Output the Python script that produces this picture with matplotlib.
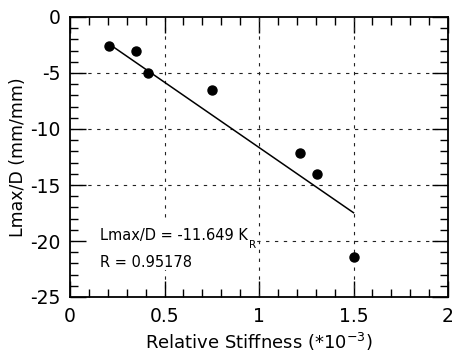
import matplotlib
matplotlib.use("Agg")
import matplotlib.pyplot as plt
import numpy as np
from matplotlib.ticker import MultipleLocator
from matplotlib.patches import Rectangle

# data
stiffness = [0.205, 0.347, 0.411, 0.751, 1.217, 1.305, 1.503]
lmax_d = [-2.55, -3.0, -5.0, -6.55, -12.1, -14.0, -21.4]
slope = -11.649
fit_x = [0.2, 1.5]

plt.rcParams['font.family'] = ['DejaVu Sans']
fig = plt.figure(figsize=(4.55, 3.53), dpi=100)
ax = fig.add_axes([70/455, 1-297/353, 378/455, 280/353])

ax.plot(stiffness, lmax_d, 'o', color='black', markersize=6.5, zorder=4)
fx = np.array(fit_x)
ax.plot(fx, slope*fx, color='black', lw=1.1, zorder=3)

ax.set_xlim(0, 2)
ax.set_ylim(-25, 0)
ax.xaxis.set_minor_locator(MultipleLocator(0.1))
ax.yaxis.set_minor_locator(MultipleLocator(1))
ax.set_xticks([0, 0.5, 1, 1.5, 2])
ax.set_xticklabels(['0', '0.5', '1', '1.5', '2'])
ax.set_yticks([0, -5, -10, -15, -20, -25])
ax.set_yticklabels(['0', '-5', '-10', '-15', '-20', '-25'])
ax.tick_params(which='both', direction='in', top=True, right=True, labelsize=13.5, width=1)
ax.tick_params(which='major', length=11.5, pad=7)
ax.tick_params(which='minor', length=5.5)

dash = (0, (3, 5))
for v in [-5, -10, -15, -20]:
    ax.axhline(v, color='#222222', lw=0.8, ls=dash, zorder=1)
ax.add_patch(Rectangle((0.03, -22.6), 0.96, 4.2, facecolor='white', edgecolor='none', zorder=1.5))
for v in [0.5, 1.0, 1.5]:
    ax.axvline(v, color='#222222', lw=0.8, ls=dash, zorder=1 if v == 0.5 else 2)

for s in ax.spines.values():
    s.set_linewidth(1.3)

ax.set_xlabel('Relative Stiffness (*10$^{\\mathregular{-3}}$)', fontsize=13, labelpad=4)
ax.set_ylabel('Lmax/D (mm/mm)', fontsize=12.5, labelpad=2)

ax.text(0.16, -19.9, 'Lmax/D = -11.649 K', fontsize=10.5, va='baseline', ha='left', zorder=5)
ax.text(0.945, -20.6, 'R', fontsize=7.5, va='baseline', ha='left', zorder=5)
ax.text(0.16, -22.3, 'R = 0.95178', fontsize=10.5, va='baseline', ha='left', zorder=5)

fig.savefig('out.png', dpi=100)
